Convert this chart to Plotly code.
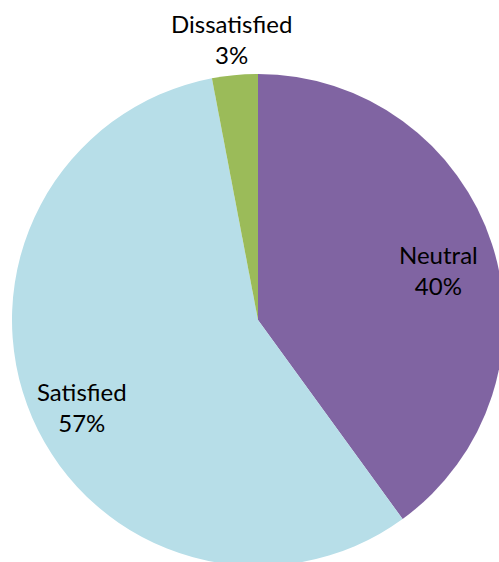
import math
import plotly.graph_objects as go

labels = ["Neutral", "Satisfied", "Dissatisfied"]
values = [40, 57, 3]
colors = ["#8064A2", "#B7DEE8", "#9BBB59"]
label_radius = [0.77, 0.78, 1.14]  # fraction of pie radius for each label
label_yshift = [-9, -11, 2]        # small pixel nudges for label blocks

fig = go.Figure(
    go.Pie(
        labels=labels,
        values=values,
        sort=False,
        direction="clockwise",
        rotation=0,
        marker=dict(colors=colors, line=dict(width=0)),
        textinfo="none",
        showlegend=False,
        hoverinfo="label+percent",
        domain=dict(x=[0, 1], y=[0, 1]),
    )
)

# labels placed at each slice's mid-angle (derived from the data)
total = sum(values)
cum = 0
for lab, v, f, ys in zip(labels, values, label_radius, label_yshift):
    mid = (cum + v / 2) / total * 2 * math.pi
    cum += v
    x = 0.5 + 0.5 * f * math.sin(mid)
    y = 0.5 + 0.5 * f * math.cos(mid)
    fig.add_annotation(
        x=x, y=y, xref="paper", yref="paper",
        text=f"{lab}<br>{round(v / total * 100)}%",
        showarrow=False,
        font=dict(family="Lato, Liberation Sans, sans-serif", size=24, color="#000000"),
        align="center",
        xanchor="center", yanchor="middle",
        yshift=ys,
    )

fig.update_layout(
    width=504,
    height=566,
    margin=dict(l=12, r=0, t=74, b=0, autoexpand=False),
    paper_bgcolor="white",
    plot_bgcolor="white",
)

fig.write_html(
    "out.html",
    config=dict(displayModeBar=False),
    post_script=(
        "document.body.style.margin='0';"
        "document.body.style.overflow='hidden';"
        "document.documentElement.style.overflow='hidden';"
    ),
)
